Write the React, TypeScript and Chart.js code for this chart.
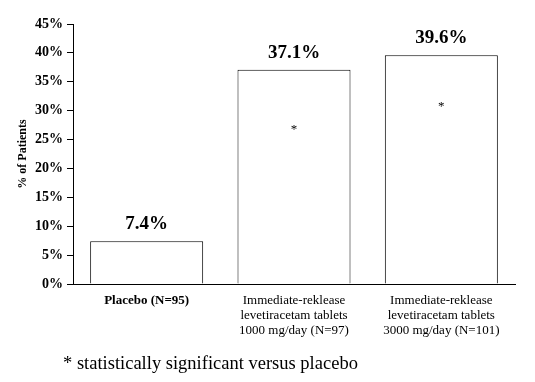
import React, { useEffect, useRef } from "react";
import { Chart, registerables } from "chart.js";

Chart.register(...registerables);

const categories: string[][] = [
  ["Placebo (N=95)"],
  ["Immediate-reklease", "levetiracetam tablets", "1000 mg/day (N=97)"],
  ["Immediate-reklease", "levetiracetam tablets", "3000 mg/day (N=101)"],
];
const responderRates: number[] = [7.4, 37.1, 39.6];
const valueLabels: string[] = ["7.4%", "37.1%", "39.6%"];
const starLevels: (number | null)[] = [null, 27, 31];
const yTicks: number[] = [0, 5, 10, 15, 20, 25, 30, 35, 40, 45];
const yTitle = "% of Patients";
const footnote = "* statistically significant versus placebo";

const SERIF = "'Liberation Serif', 'Times New Roman', serif";

const annotPlugin = {
  id: "annot",
  afterDatasetsDraw(chart: any) {
    const { ctx } = chart;
    const meta = chart.getDatasetMeta(0);
    const y = chart.scales.y;
    ctx.save();
    ctx.fillStyle = "#000";
    ctx.textAlign = "center";
    ctx.textBaseline = "middle";
    meta.data.forEach((bar: any, i: number) => {
      ctx.font = `bold 19px ${SERIF}`;
      ctx.fillText(valueLabels[i], bar.x, bar.y - 17);
      const s = starLevels[i];
      if (s !== null) {
        ctx.font = `13px ${SERIF}`;
        ctx.fillText("*", bar.x, y.getPixelForValue(s) + 2);
      }
    });
    ctx.restore();
  },
};

export default function App() {
  const ref = useRef<HTMLCanvasElement | null>(null);
  useEffect(() => {
    if (!ref.current) return;
    const chart = new Chart(ref.current, {
      type: "bar",
      data: {
        labels: categories,
        datasets: [
          {
            data: responderRates,
            backgroundColor: "#ffffff",
            borderColor: "#000000",
            borderWidth: 1,
            categoryPercentage: 1,
            barPercentage: 0.767,
          },
        ],
      },
      options: {
        animation: false,
        responsive: false,
        maintainAspectRatio: false,
        layout: { padding: { left: 12, top: 24, right: 20, bottom: 0 } },
        plugins: {
          legend: { display: false },
          tooltip: { enabled: false },
        },
        scales: {
          x: {
            grid: { display: false },
            border: { display: true, color: "#000", width: 1 },
            ticks: {
              color: "#000",
              padding: 1,
              maxRotation: 0,
              autoSkip: false,
              font: (c: any) =>
                c.index === 0
                  ? { family: SERIF, size: 13, weight: "bold", lineHeight: 1.15 }
                  : { family: SERIF, size: 13, weight: "normal", lineHeight: 1.15 },
            },
            afterFit: (s: any) => {
              s.height = 98;
            },
          },
          y: {
            min: 0,
            max: 45,
            afterBuildTicks: (s: any) => {
              s.ticks = yTicks.map((v) => ({ value: v }));
            },
            grid: {
              drawOnChartArea: false,
              drawTicks: true,
              tickLength: 6,
              color: "#000",
            },
            border: { display: true, color: "#000", width: 1 },
            ticks: {
              color: "#000",
              padding: 4,
              font: { family: SERIF, size: 14, weight: "bold" },
              callback: (v: any) => `${v}%`,
            },
            title: {
              display: true,
              text: yTitle,
              color: "#000",
              font: { family: SERIF, size: 12, weight: "bold" },
              padding: { top: 4, bottom: 0 },
            },
            afterFit: (s: any) => {
              s.width = 61;
            },
          },
        },
      },
      plugins: [annotPlugin],
    });
    return () => chart.destroy();
  }, []);

  return (
    <div style={{ position: "fixed", left: 0, top: 0, width: 535, height: 382, background: "#fff" }}>
      <canvas ref={ref} width={535} height={382} style={{ display: "block", width: 535, height: 382 }} />
      <div
        style={{
          position: "absolute",
          left: 63,
          top: 353,
          fontFamily: SERIF,
          fontSize: 18.5,
          color: "#000",
          whiteSpace: "nowrap",
        }}
      >
        {footnote}
      </div>
    </div>
  );
}
